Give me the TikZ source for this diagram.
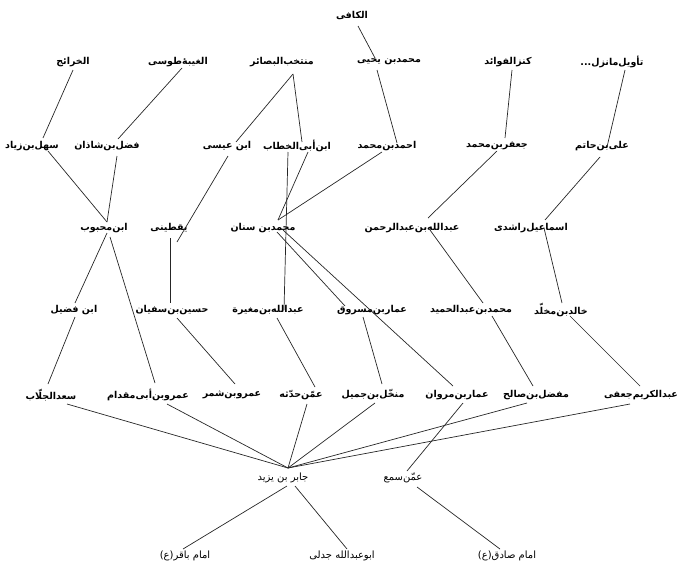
\documentclass[tikz,border=0pt]{standalone}
\usepackage{fontspec}
\TeXXeTstate=1
\newfontfamily\arabicfont[Script=Arabic]{DejaVu Sans}
\newfontfamily\arabicbold[Script=Arabic]{DejaVu Sans Bold}
\newcommand\ar[1]{\arabicbold\beginR #1\endR}
\newcommand\arl[1]{\arabicfont\beginR #1\endR}
\newcommand\conn[6]{\draw[lnk] ([shift={(#2,#3)}]#1.center) -- ([shift={(#5,#6)}]#4.center);}
\begin{document}
\begin{tikzpicture}[x=1pt,y=-1pt,
  lbl/.style={inner sep=0pt,font=\fontsize{9.5}{12}\selectfont},
  lbll/.style={inner sep=0pt,font=\fontsize{10}{12}\selectfont},
  lnk/.style={line width=0.7pt,draw=black!85}]
\useasboundingbox (0,0) rectangle (680,570);
% row 0
\node[lbl] (kafi) at (352,15) {\ar{الکافی}};
% row 1
\node[lbl] (kharaej) at (73,62) {\ar{الخرائج}};
\node[lbl] (ghayba) at (178,62) {\ar{الغیبهٔ‌طوسی}};
\node[lbl] (montakhab) at (282,62) {\ar{منتخب‌البصائر}};
\node[lbl] (yahya) at (389,62) {\ar{محمدبن یحیی}};
\node[lbl] (kanz) at (508,62) {\ar{کنزالفوائد}};
\node[lbl] (tawil) at (612,62) {\ar{تأویل‌مانزل...}};
% row 2
\node[lbl] (sahl) at (32,146) {\ar{سهل‌بن‌زیاد}};
\node[lbl] (fazl) at (107,146) {\ar{فضل‌بن‌شاذان}};
\node[lbl] (ibnisa) at (227,146) {\ar{ابن عیسی}};
\node[lbl] (khattab) at (297,146) {\ar{ابن‌أبی‌الخطاب}};
\node[lbl] (ahmad) at (387,146) {\ar{احمدبن‌محمد}};
\node[lbl] (jafar) at (497,146) {\ar{جعفربن‌محمد}};
\node[lbl] (ali) at (602,146) {\ar{علی‌بن‌حاتم}};
% row 3
\node[lbl] (mahbub) at (104,228) {\ar{ابن‌محبوب}};
\node[lbl] (yaqtini) at (169,228) {\ar{یقطینی}};
\node[lbl] (sinan) at (263,228) {\ar{محمدبن سنان}};
\node[lbl] (rahman) at (412,228) {\ar{عبدالله‌بن‌عبدالرحمن}};
\node[lbl] (ismail) at (531,228) {\ar{اسماعیل‌راشدی}};
% row 4
\node[lbl] (fuzayl) at (74,310) {\ar{ابن فضیل}};
\node[lbl] (husayn) at (172,310) {\ar{حسین‌بن‌سفیان}};
\node[lbl] (mughira) at (268,310) {\ar{عبدالله‌بن‌مغیرة}};
\node[lbl] (masruq) at (372,310) {\ar{عماربن‌مسروق}};
\node[lbl] (hamid) at (471,310) {\ar{محمدبن‌عبدالحمید}};
\node[lbl] (khalid) at (561,310) {\ar{خالدبن‌مخلّد}};
% row 5
\node[lbl] (saad) at (51,395) {\ar{سعدالجلّاب}};
\node[lbl] (miqdam) at (148,395) {\ar{عمروبن‌أبی‌مقدام}};
\node[lbl] (shimr) at (232,395) {\ar{عمروبن‌شمر}};
\node[lbl] (haddatha) at (301,395) {\ar{عمّن‌حدّثه}};
\node[lbl] (monakhkhal) at (373,395) {\ar{منخّل‌بن‌جمیل}};
\node[lbl] (marwan) at (457,395) {\ar{عماربن‌مروان}};
\node[lbl] (mufazzal) at (536,395) {\ar{مفضل‌بن‌صالح}};
\node[lbl] (karim) at (641,395) {\ar{عبدالکریم‌جعفی}};
% row 6
\node[lbll] (jabir) at (283,478) {\arl{جابر بن یزید}};
\node[lbll] (same) at (403,478) {\arl{عمّن‌سمع}};
% row 7
\node[lbll] (baqir) at (185,556) {\arl{امام باقر(ع)}};
\node[lbll] (jadali) at (342,556) {\arl{ابوعبدالله جدلی}};
\node[lbll] (sadiq) at (507,556) {\arl{امام صادق(ع)}};
% connectors
\conn{kafi}{6}{11}{yahya}{-14}{-4}
\conn{yahya}{-12}{8}{ahmad}{10}{-3}
\conn{kharaej}{0}{8}{sahl}{11}{-8}
\conn{sahl}{16}{5}{mahbub}{3}{-6}
\conn{ghayba}{4}{6}{fazl}{11}{-7}
\conn{fazl}{10}{10}{mahbub}{3}{-6}
\conn{montakhab}{11}{12}{ibnisa}{9}{-4}
\conn{ibnisa}{1}{10}{yaqtini}{8}{14}
\conn{montakhab}{11}{12}{khattab}{5}{-4}
\conn{khattab}{-9}{6}{mughira}{16}{0}
\conn{khattab}{11}{6}{sinan}{15}{-8}
\conn{ahmad}{-5}{6}{sinan}{15}{-8}
\conn{kanz}{4}{8}{jafar}{8}{-8}
\conn{jafar}{0}{5}{rahman}{16}{-10}
\conn{tawil}{13}{8}{ali}{5}{1}
\conn{ali}{-2}{11}{ismail}{14}{-8}
\conn{ismail}{13}{0}{khalid}{1}{-7}
\conn{khalid}{9}{6}{karim}{-1}{-9}
\conn{rahman}{18}{2}{hamid}{12}{-7}
\conn{hamid}{21}{6}{mufazzal}{-3}{-9}
\conn{sinan}{14}{4}{masruq}{-27}{-4}
\conn{sinan}{20}{2}{marwan}{-4}{-9}
\conn{masruq}{-9}{7}{monakhkhal}{9}{-11}
\conn{mahbub}{3}{5}{fuzayl}{1}{-7}
\conn{fuzayl}{1}{7}{saad}{-3}{-11}
\conn{mahbub}{6}{9}{miqdam}{7}{-12}
\conn{yaqtini}{1}{10}{husayn}{-2}{-7}
\conn{husayn}{5}{8}{shimr}{3}{-11}
\conn{mughira}{9}{8}{haddatha}{14}{-8}
\conn{saad}{16}{9}{jabir}{5}{-10}
\conn{miqdam}{19}{9}{jabir}{5}{-10}
\conn{haddatha}{6}{9}{jabir}{5}{-10}
\conn{monakhkhal}{2}{8}{jabir}{5}{-10}
\conn{mufazzal}{-9}{8}{jabir}{5}{-10}
\conn{karim}{-11}{9}{jabir}{5}{-10}
\conn{marwan}{6}{8}{same}{4}{-7}
\conn{jabir}{4}{8}{baqir}{-2}{-7}
\conn{jabir}{12}{8}{jadali}{5}{-7}
\conn{same}{14}{9}{sadiq}{-7}{-7}
\end{tikzpicture}
\end{document}
